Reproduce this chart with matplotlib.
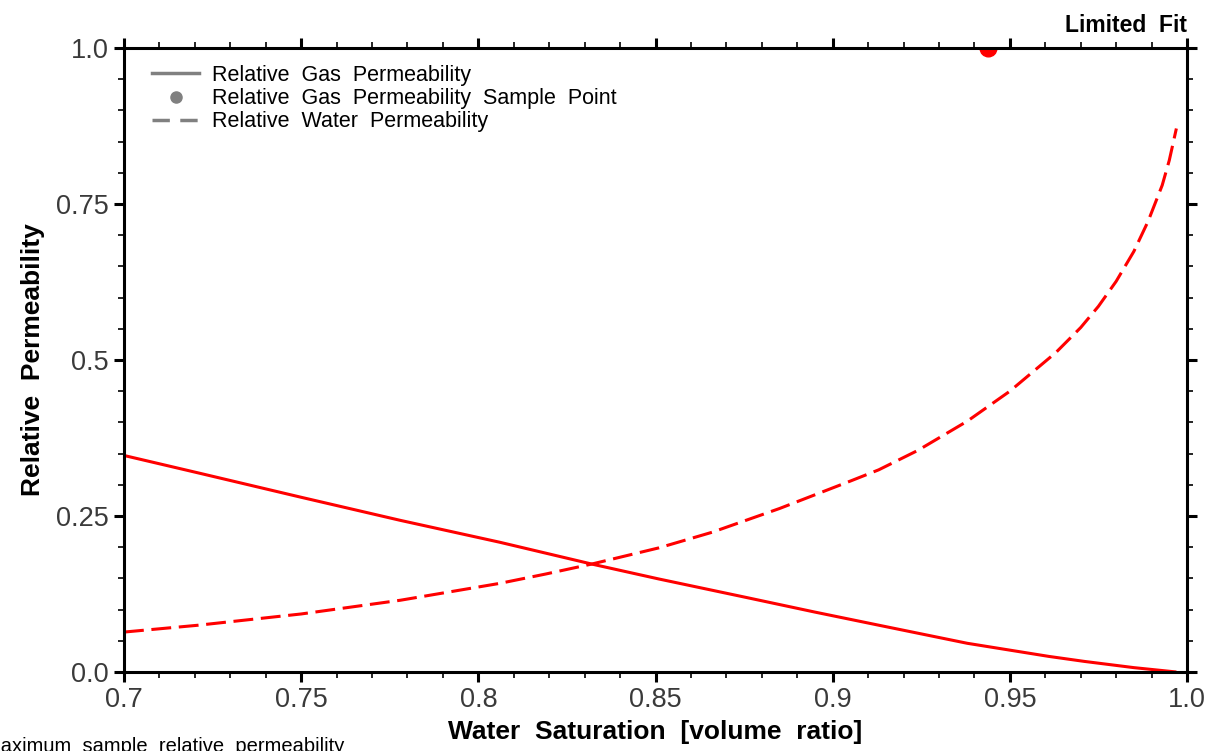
import matplotlib
matplotlib.use("Agg")
import matplotlib.pyplot as plt
from matplotlib.ticker import FixedLocator, MultipleLocator
from matplotlib.lines import Line2D

plt.rcParams['font.family'] = ['Liberation Sans', 'DejaVu Sans']

# relative gas permeability curve
sw_gas = [0.700, 0.721, 0.750, 0.778, 0.806, 0.832, 0.851, 0.876, 0.895,
          0.913, 0.938, 0.961, 0.971, 0.985, 0.997]
krg = [0.347, 0.319, 0.280, 0.243, 0.208, 0.173, 0.149, 0.119, 0.096,
       0.075, 0.046, 0.025, 0.017, 0.007, 0.000]

# relative water permeability curve
sw_water = [0.700, 0.721, 0.750, 0.778, 0.806, 0.819, 0.832, 0.851, 0.866,
            0.885, 0.905, 0.913, 0.924, 0.938, 0.950, 0.963, 0.970, 0.975,
            0.980, 0.985, 0.989, 0.993, 0.995, 0.997]
krw = [0.064, 0.075, 0.093, 0.115, 0.142, 0.157, 0.173, 0.199, 0.224,
       0.262, 0.306, 0.324, 0.355, 0.402, 0.450, 0.512, 0.552, 0.586,
       0.626, 0.674, 0.722, 0.780, 0.820, 0.871]

# measured sample point
sample_sw = [0.9438]
sample_kr = [1.0]

x_ticks = [0.7, 0.75, 0.8, 0.85, 0.9, 0.95, 1.0]
x_labels = ['0.7', '0.75', '0.8', '0.85', '0.9', '0.95', '1.0']
y_ticks = [0.0, 0.25, 0.5, 0.75, 1.0]
y_labels = ['0.0', '0.25', '0.5', '0.75', '1.0']

fig = plt.figure(figsize=(12.17, 7.51), dpi=100)
ax = fig.add_axes([124 / 1217, 1 - 672 / 751, 1063 / 1217, 624 / 751])

ax.plot(sw_gas, krg, color='#ff0000', lw=2.2, solid_capstyle='butt')
ax.plot(sw_water, krw, color='#ff0000', lw=2.2, dashes=(6.5, 2.5))
ax.plot(sample_sw, sample_kr, 'o', color='#ff0000', markersize=12, clip_on=True)

ax.set_xlim(0.7, 1.0)
ax.set_ylim(0.0, 1.0)
ax.xaxis.set_major_locator(FixedLocator(x_ticks))
ax.set_xticklabels(x_labels)
ax.yaxis.set_major_locator(FixedLocator(y_ticks))
ax.set_yticklabels(y_labels)
ax.xaxis.set_minor_locator(MultipleLocator(0.01))
ax.yaxis.set_minor_locator(MultipleLocator(0.05))

for sp in ax.spines.values():
    sp.set_linewidth(2.2)
    sp.set_color('black')

ax.tick_params(which='both', direction='out', top=True, right=True,
               labeltop=False, labelright=False, color='black')
ax.tick_params(which='major', length=7, width=2.2, labelsize=19.5,
               labelcolor='#3a3a3a', pad=4)
ax.tick_params(which='minor', length=4, width=1.2)

ax.set_xlabel('Water  Saturation  [volume  ratio]', fontsize=19,
              fontweight='bold', labelpad=5)
ax.set_ylabel('Relative  Permeability', fontsize=19, fontweight='bold',
              labelpad=8)

handles = [
    Line2D([], [], color='#808080', lw=2.5),
    Line2D([], [], color='#808080', marker='o', ls='none', markersize=8),
    Line2D([], [], color='#808080', lw=2.5, dashes=(5, 3)),
]
labels = ['Relative  Gas  Permeability',
          'Relative  Gas  Permeability  Sample  Point',
          'Relative  Water  Permeability']
ax.legend(handles, labels, loc='upper left', frameon=False, fontsize=15.5,
          handlelength=2.2, handletextpad=0.6, labelspacing=0.1,
          borderaxespad=0.3, bbox_to_anchor=(0.012, 0.997))

fig.text(1187 / 1217, 1 - 26 / 751, 'Limited  Fit', ha='right', va='center',
         fontsize=16.5, fontweight='bold')
fig.text(-16 / 1217, 1 - 747 / 751, 'Maximum  sample  relative  permeability',
         ha='left', va='center', fontsize=14.5)

fig.savefig('out.png', dpi=100)
